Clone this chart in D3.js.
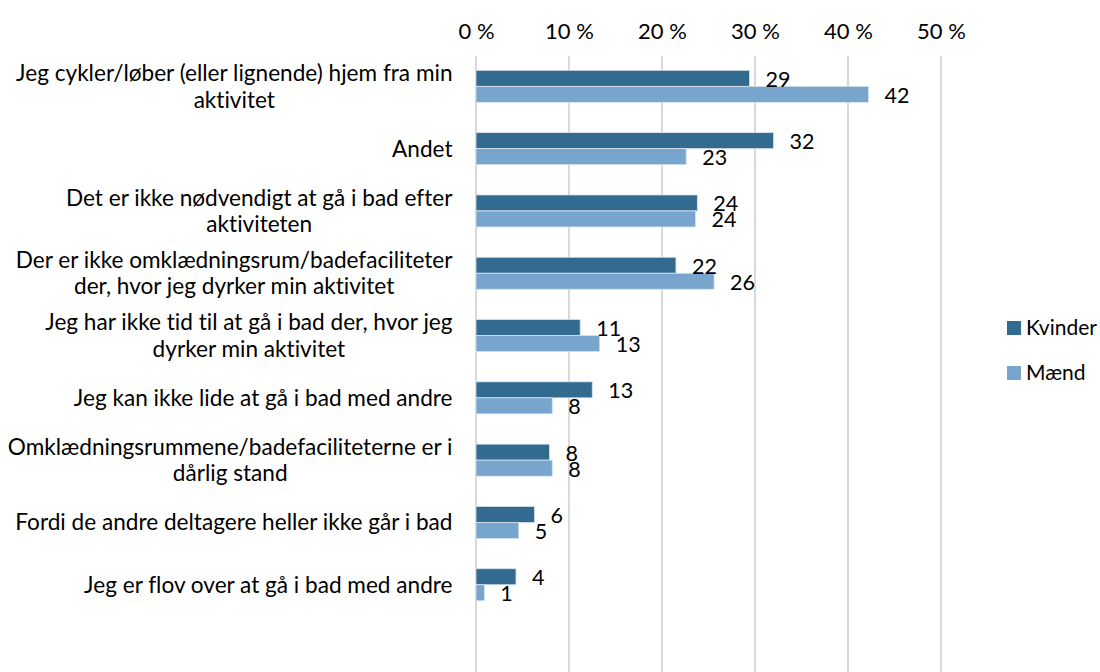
<!DOCTYPE html>
<html>
<head>
<meta charset="utf-8">
<script src="https://cdn.jsdelivr.net/npm/d3@7"></script>
<style>
    body { margin: 0; background: #fff; }
    svg text { font-family: Lato, "Open Sans", sans-serif; fill: #000; font-variant-ligatures: none; }
</style>
</head>
<body>
<svg id="chart" width="1100" height="672"></svg>
<script>
var categories = [
    ['Jeg cykler/løber (eller lignende) hjem fra min', 'aktivitet'],
    ['Andet'],
    ['Det er ikke nødvendigt at gå i bad efter', 'aktiviteten'],
    ['Der er ikke omklædningsrum/badefaciliteter', 'der, hvor jeg dyrker min aktivitet'],
    ['Jeg har ikke tid til at gå i bad der, hvor jeg', 'dyrker min aktivitet'],
    ['Jeg kan ikke lide at gå i bad med andre'],
    ['Omklædningsrummene/badefaciliteterne er i', 'dårlig stand'],
    ['Fordi de andre deltagere heller ikke går i bad'],
    ['Jeg er flov over at gå i bad med andre']
]
var seriesNames = ['Kvinder', 'Mænd']
var kvinder = [29.4, 32.0, 23.8, 21.5, 11.2, 12.5, 7.9, 6.3, 4.3]
var maend = [42.2, 22.6, 23.6, 25.6, 13.3, 8.2, 8.2, 4.6, 0.9]
var tickValues = [0, 10, 20, 30, 40, 50]
var colors = ['#336a90', '#78a5ce']

var svg = d3.select('#chart')

var x = d3.scaleLinear().domain([0, 50]).range([476, 941])
var y = d3.scaleBand()
    .domain(d3.range(categories.length))
    .range([55.2, 615.9])
var barH = 16

// gridlines
svg.append('g')
    .selectAll('line')
    .data(tickValues)
    .join('line')
    .attr('x1', function(d) { return x(d) })
    .attr('x2', function(d) { return x(d) })
    .attr('y1', 56)
    .attr('y2', 672)
    .attr('stroke', '#d9d9d9')
    .attr('stroke-width', 2)

// top axis labels
var axis = svg.append('g')
    .attr('transform', 'translate(0,31)')
    .call(d3.axisTop(x).tickValues(tickValues).tickSize(0).tickPadding(0)
        .tickFormat(function(d) { return d + ' %' }))
axis.select('.domain').remove()
axis.selectAll('text')
    .attr('dy', '0.35em')
    .style('font-size', '22px')
    .style('font-family', 'Lato, sans-serif')
    .style('fill', '#000')

// bars
var rows = categories.map(function(c, i) {
    return { i: i, values: [kvinder[i], maend[i]] }
})
var groups = svg.append('g')
    .selectAll('g')
    .data(rows)
    .join('g')
    .attr('transform', function(d) {
        return 'translate(0,' + (y(d.i) + y.bandwidth() / 2 - barH) + ')'
    })

groups.selectAll('rect')
    .data(function(d) { return d.values })
    .join('rect')
    .attr('x', x(0))
    .attr('y', function(d, j) { return j * barH })
    .attr('width', function(d) { return x(d) - x(0) })
    .attr('height', barH)
    .attr('fill', function(d, j) { return colors[j] })
    .attr('stroke', '#d6e2ee')
    .attr('stroke-width', 0.8)

groups.selectAll('text.val')
    .data(function(d) { return d.values })
    .join('text')
    .attr('class', 'val')
    .attr('x', function(d) { return x(d) + 16 })
    .attr('y', function(d, j) { return j * barH + barH / 2 + 1 })
    .attr('dy', '0.35em')
    .style('font-size', '21.5px')
    .text(function(d) { return Math.round(d) })

// category labels, block right aligned, lines centered within block
var labelRight = 452.5
var lineH = 26.5
categories.forEach(function(lines, i) {
    var g = svg.append('g')
    var cy = y(i) + y.bandwidth() / 2
    var texts = lines.map(function(line, k) {
        return g.append('text')
            .attr('y', cy + (k - (lines.length - 1) / 2) * lineH)
            .attr('dy', '0.35em')
            .attr('text-anchor', 'middle')
            .style('font-size', '22.6px')
            .text(line)
    })
    var maxW = d3.max(texts, function(t) { return t.node().getComputedTextLength() })
    texts.forEach(function(t) { t.attr('x', labelRight - maxW / 2) })
})

// legend
var legend = svg.append('g')
    .selectAll('g')
    .data(seriesNames)
    .join('g')
    .attr('transform', function(d, j) { return 'translate(1007,' + (321 + j * 45) + ')' })
legend.append('rect')
    .attr('width', 14)
    .attr('height', 14)
    .attr('fill', function(d, j) { return colors[j] })
legend.append('text')
    .attr('x', 19)
    .attr('y', 7)
    .attr('dy', '0.35em')
    .style('font-size', '21px')
    .text(function(d) { return d })
</script>
</body>
</html>
